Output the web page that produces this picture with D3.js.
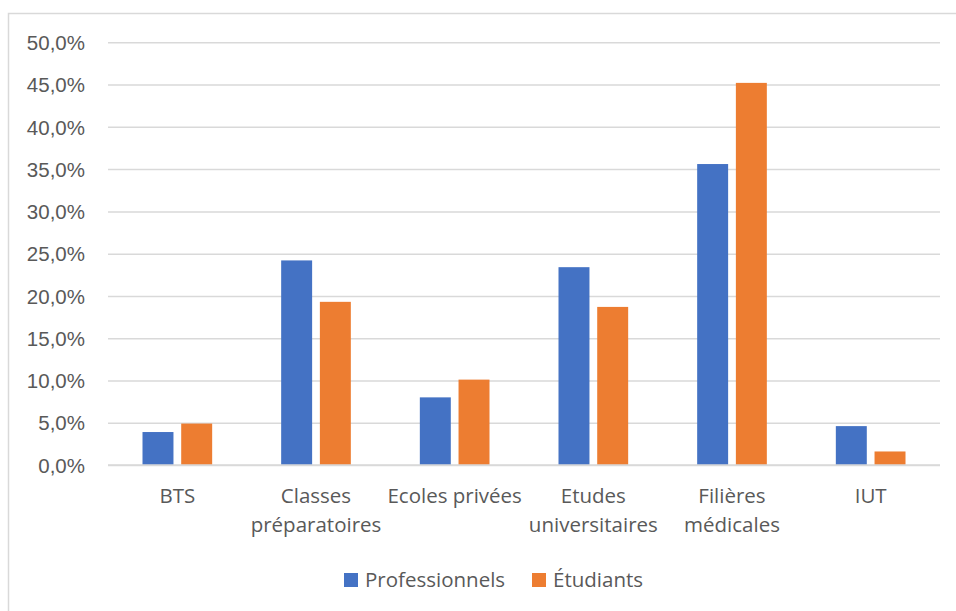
<!DOCTYPE html>
<html>
<head>
<meta charset="utf-8">
<script src="https://cdn.jsdelivr.net/npm/d3@7"></script>
<style>
	body { margin: 0; background: #fff; }
	svg { display: block; font-family: "Open Sans", sans-serif; }
	.tick text, .cat-label, .legend-label { fill: #595959; }
</style>
</head>
<body>
<div id="chart"></div>
<script>

// data (percent)
let categories = ["BTS", "Classes préparatoires", "Ecoles privées", "Etudes universitaires", "Filières médicales", "IUT"];
let seriesNames = ["Professionnels", "Étudiants"];
let professionnels = [3.9, 24.2, 8.0, 23.4, 35.6, 4.6];
let etudiants = [4.9, 19.3, 10.1, 18.7, 45.2, 1.6];
let yTicks = [0, 5, 10, 15, 20, 25, 30, 35, 40, 45, 50];
let colors = ["#4472C4", "#ED7D31"];

let width = 956, height = 611;
let margin = {top: 42.3, right: 16, bottom: 146, left: 108};
let innerW = width - margin.left - margin.right;
let innerH = height - margin.top - margin.bottom;
let fontSize = "20.5px";

let svg = d3.select("#chart").append("svg")
	.attr("width", width)
	.attr("height", height);

// chart frame (only left and top visible)
svg.append("rect")
	.attr("x", 8.5)
	.attr("y", 13.5)
	.attr("width", 1000)
	.attr("height", 700)
	.attr("fill", "none")
	.attr("stroke", "#d9d9d9")
	.attr("stroke-width", 1.5);

let g = svg.append("g")
	.attr("transform", "translate(" + margin.left + "," + margin.top + ")");

let x = d3.scaleBand()
	.domain(categories)
	.range([0, innerW]);

let y = d3.scaleLinear()
	.domain([0, 50])
	.range([innerH, 0]);

// gridlines + labels
let yAxis = d3.axisLeft(y)
	.tickValues(yTicks)
	.tickSize(-innerW)
	.tickPadding(23)
	.tickFormat(d => d3.format(".1f")(d).replace(".", ",") + "%");

let yAxisGroup = g.append("g")
	.attr("class", "y-axis")
	.call(yAxis);

yAxisGroup.select(".domain").remove();
yAxisGroup.selectAll(".tick line")
	.attr("stroke", "#d9d9d9")
	.attr("stroke-width", 1.5);
yAxisGroup.selectAll(".tick text")
	.style("font-size", fontSize)
	.attr("dy", "0.35em");

// bars
let rows = categories.map((c, i) => ({cat: c, values: [professionnels[i], etudiants[i]]}));
let x1 = d3.scaleBand()
	.domain([0, 1])
	.range([34.5, x.bandwidth() - 34.5])
	.paddingInner(0.2);

let groups = g.selectAll("g.cat")
	.data(rows)
	.enter()
	.append("g")
	.attr("class", "cat")
	.attr("transform", d => "translate(" + x(d.cat) + ",0)");

groups.selectAll("rect")
	.data(d => d.values)
	.enter()
	.append("rect")
	.attr("x", (d, i) => x1(i))
	.attr("y", d => y(d))
	.attr("width", x1.bandwidth())
	.attr("height", d => innerH - y(d))
	.attr("fill", (d, i) => colors[i]);

// x axis line
g.append("line")
	.attr("x1", 0)
	.attr("x2", innerW)
	.attr("y1", innerH)
	.attr("y2", innerH)
	.attr("stroke", "#d9d9d9")
	.attr("stroke-width", 1.5);

// category labels, wrapped when wider than the band
let catLabels = g.selectAll("text.cat-label")
	.data(categories)
	.enter()
	.append("text")
	.attr("class", "cat-label")
	.attr("text-anchor", "middle")
	.style("font-size", fontSize)
	.attr("x", d => x(d) + x.bandwidth() / 2)
	.attr("y", innerH + 38);

catLabels.each(function (d) {
	let t = d3.select(this);
	t.text(d);
	if (this.getComputedTextLength() > x.bandwidth()) {
		let words = d.split(" ");
		t.text(null);
		words.forEach((w, i) => {
			t.append("tspan")
				.attr("x", x(d) + x.bandwidth() / 2)
				.attr("dy", i === 0 ? 0 : 29)
				.text(w);
		});
	}
});

// legend
let legendX = [344, 532];
let legend = svg.selectAll("g.legend")
	.data(seriesNames)
	.enter()
	.append("g")
	.attr("class", "legend")
	.attr("transform", (d, i) => "translate(" + legendX[i] + ",573)");

legend.append("rect")
	.attr("width", 14)
	.attr("height", 14)
	.attr("fill", (d, i) => colors[i]);

legend.append("text")
	.attr("class", "legend-label")
	.attr("x", 21)
	.attr("y", 7)
	.attr("dy", "0.35em")
	.style("font-size", fontSize)
	.text(d => d);

</script>
</body>
</html>
